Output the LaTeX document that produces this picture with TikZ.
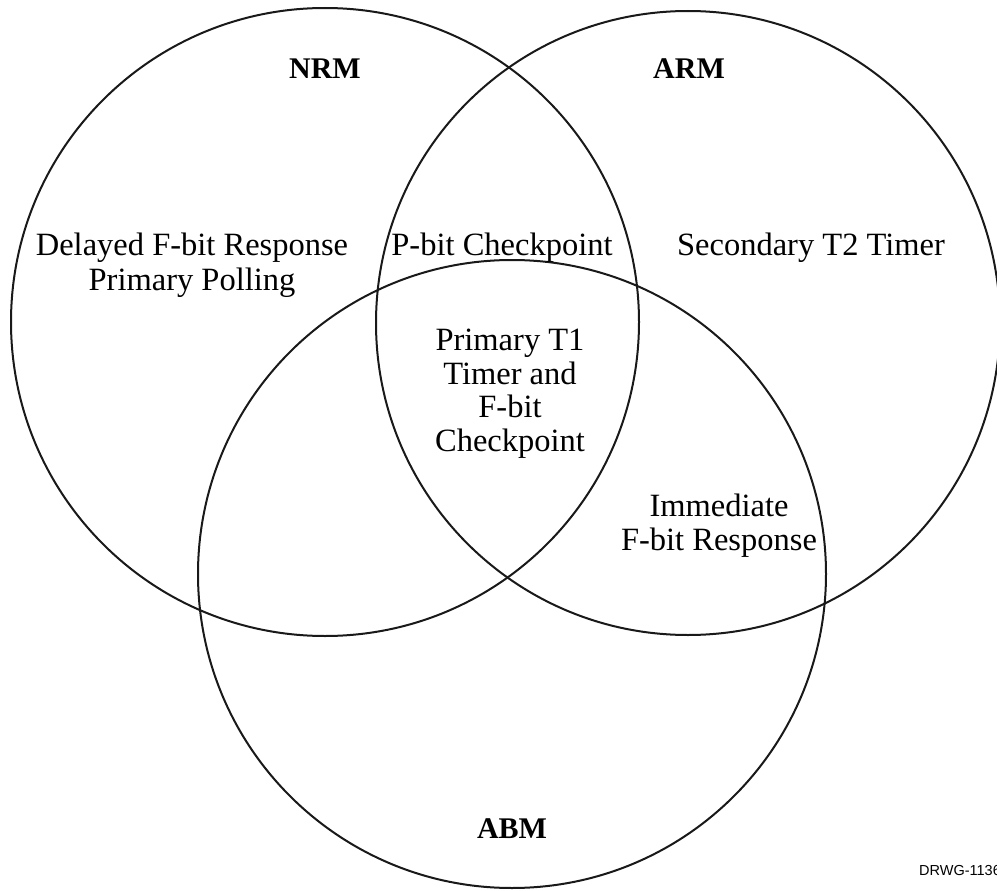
\documentclass[tikz,border=0pt]{standalone}
\usepackage{fontspec}
\setmainfont{Liberation Serif}
\newfontfamily\tagfont{Liberation Sans}
\begin{document}
\begin{tikzpicture}[x=1pt,y=-1pt,
  ring/.style={draw=black!90,line width=2pt},
  body/.style={inner sep=0pt,anchor=base,font=\fontsize{32.5}{36}\selectfont},
  title/.style={body,font=\fontsize{30}{34}\selectfont\bfseries},
  tag/.style={inner sep=0pt,anchor=base west,font=\fontsize{14.5}{16}\tagfont}]
\useasboundingbox (0,0) rectangle (997,891);
\clip (0,0) rectangle (997,891);
% the three mode circles
\node[ring,circle,minimum size=628pt,inner sep=0pt] (nrm) at (325,322) {};
\node[ring,circle,minimum size=624pt,inner sep=0pt] (arm) at (688,323) {};
\node[ring,circle,minimum size=628pt,inner sep=0pt] (abm) at (512,574) {};
% circle titles
\node[title] (tnrm) at (325,79) {NRM};
\node[title] (tarm) at (689,79) {ARM};
\node[title] (tabm) at (512,838) {ABM};
% region texts
\node[body] (d1) at (192,255) {Delayed F-bit Response};
\node[body] (d2) at (192,290) {Primary Polling};
\node[body] (pb) at (502,255) {P-bit Checkpoint};
\node[body] (st) at (811,255) {Secondary T2 Timer};
\node[body] (c1) at (510,350) {Primary T1};
\node[body] (c2) at (510,384) {Timer and};
\node[body] (c3) at (510,417) {F-bit};
\node[body] (c4) at (510,451) {Checkpoint};
\node[body] (i1) at (719,516) {Immediate};
\node[body] (i2) at (719,550) {F-bit Response};
% drawing number
\node[tag] (drwg) at (919,875) {DRWG-1136};
\end{tikzpicture}
\end{document}
